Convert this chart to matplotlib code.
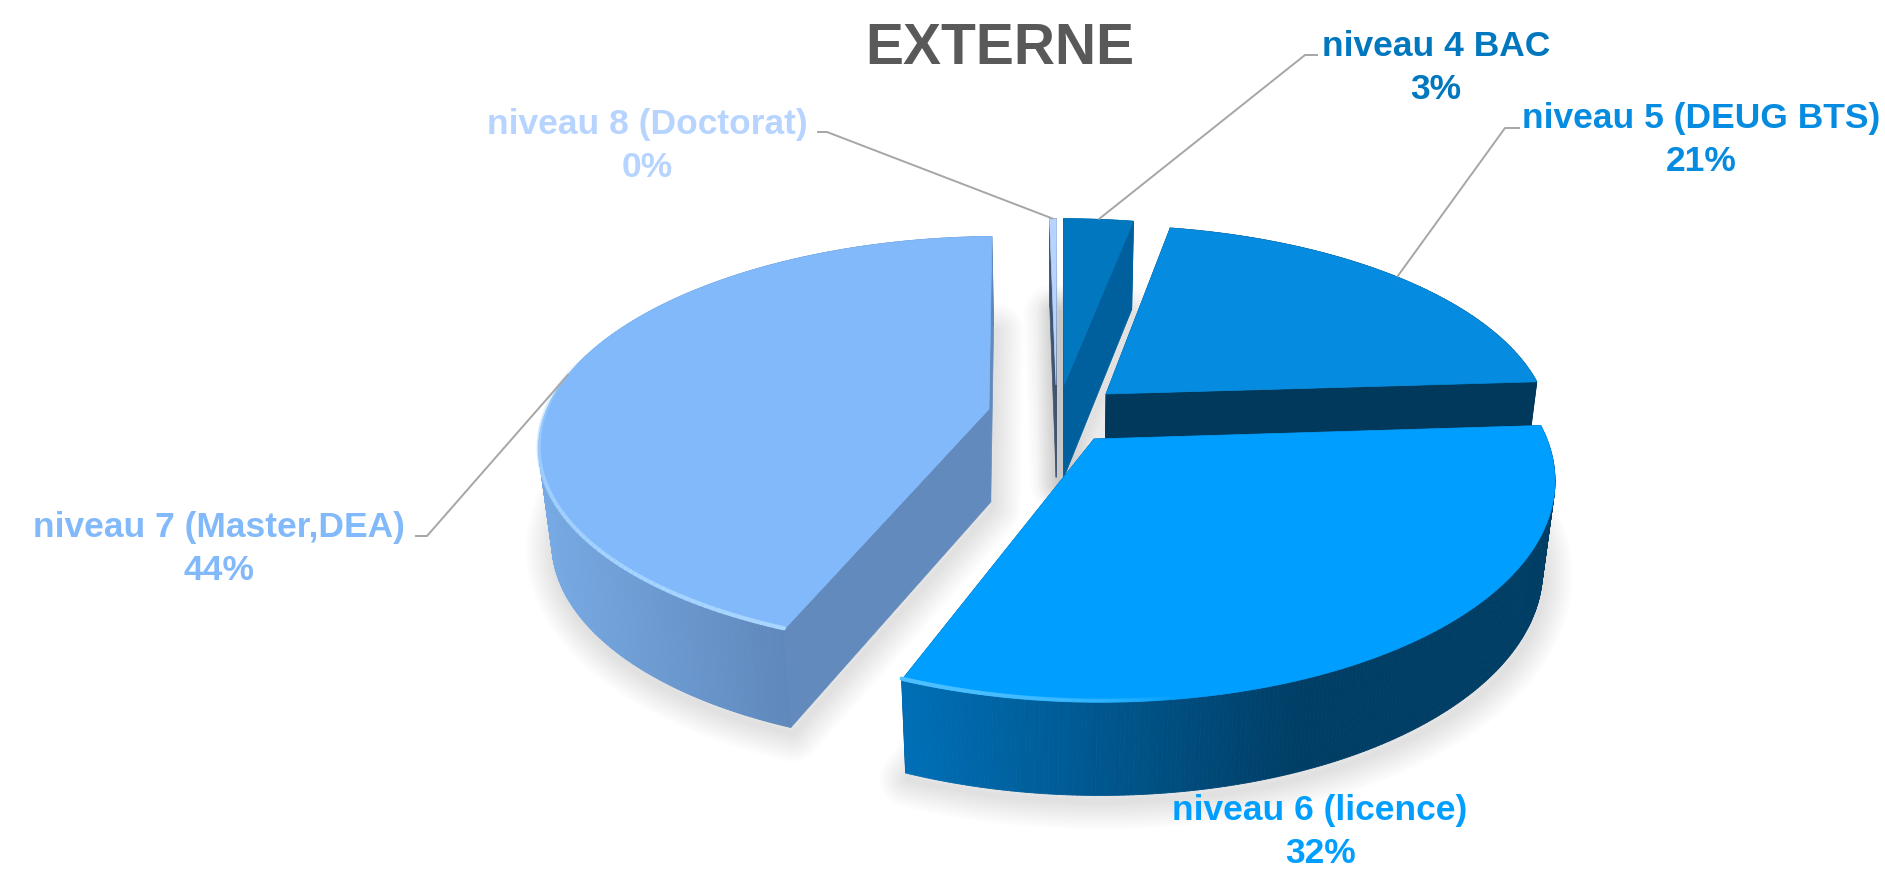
import numpy as np
import matplotlib
matplotlib.use("Agg")
import matplotlib.pyplot as plt
from matplotlib.collections import PolyCollection, LineCollection
from matplotlib.colors import to_rgb
from matplotlib.patches import Polygon

# ---------- data ----------
categories = ["niveau 4 BAC", "niveau 5 (DEUG BTS)", "niveau 6 (licence)",
              "niveau 7 (Master,DEA)", "niveau 8 (Doctorat)"]
values = [3.0, 21.0, 32.0, 43.7, 0.3]
title = "EXTERNE"

# ---------- styles ----------
top_colors = ["#0077BE", "#058BDF", "#009FFF", "#82B9FB", "#B7D4FF"]
cut_colors = ["#00609E", "#00395C", "#003E66", "#628ABD", "#3F5570"]
wall_from = ["#00609E", "#00395C", "#0070B8", "#77A9E3", "#3F5570"]
wall_to = ["#00609E", "#00395C", "#003E66", "#5F88BB", "#3F5570"]
wall_span = [(0, 1), (0, 1), (900, 1300), (545, 789), (0, 1)]
glow = [None, None, ("#4CC0FF", 172), ("#A8D6FF", 285), None]

# ---------- layout (pixels of the 1885x870 canvas) ----------
W, H = 1885, 870
xc, yc, R0, Ry, k = 1060.0, 410.0, 442.0, 201.0, 0.165
depth, base_shrink = 93.0, 0.975
apex_px = [(1064, 386), (1106, 395), (1094, 440), (989, 410), (1056, 386)]
near_stretch = [1.0, 1.0, 1.03, 1.0, 1.0]
depth_scale = [1.0, 1.0, 0.94, 1.0, 1.0]
label_xy = [(1436, 68), (1701, 140), (1320, 832), (219, 549), (647, 146)]
elbows = [[(1318, 56), (1305, 56)], [(1520, 129), (1505, 129)], None,
          [(415, 537), (427, 537)], [(817, 133), (827, 133)]]
draw_order = [4, 0, 1, 3, 2]
LEADER = "#A6A6A6"


def to_screen(X, Y):
    s = 1.0 / (1.0 - k * Y)
    return xc + R0 * X * s, yc + Ry * Y * s, s


def to_base(i, x, y, s):
    return xc + (x - xc) * base_shrink, y + depth * depth_scale[i] * s ** 0.3


def world_apex(px, py):
    d = py - yc
    Y = d / (Ry + k * d)
    return (px - xc) * (1 - k * Y) / R0, Y


def rim(i, a_deg):
    ax0, ay0 = world_apex(*apex_px[i])
    a = np.radians(a_deg)
    return to_screen(ax0 + np.sin(a), ay0 - np.cos(a) * near_stretch[i])


fig = plt.figure(figsize=(W / 100, H / 100), dpi=100, facecolor="white")
ax = fig.add_axes([0, 0, 1, 1])
ax.set_xlim(0, W)
ax.set_ylim(H, 0)
ax.axis("off")

edges = np.concatenate([[0], np.cumsum(values)]) / np.sum(values) * 360.0
z = 10

# soft shadows below every slice: only the growing strokes, no filled edge
for i in draw_order:
    ang = np.linspace(edges[i], edges[i + 1], 120)
    x, y, s = rim(i, ang)
    xb, yb = to_base(i, x, y, s)
    a0x, a0y, a0s = to_screen(*world_apex(*apex_px[i]))
    bx, by = to_base(i, a0x, a0y, a0s)
    pts = np.column_stack([np.r_[bx, xb], np.r_[by, yb]]) + [2, 6]
    for lw in np.arange(4, 44, 4):
        ax.add_patch(Polygon(pts, closed=True, fc="none", ec="black", lw=lw,
                             alpha=0.011, joinstyle="round", zorder=1))

for i in draw_order:
    ang = np.linspace(edges[i], edges[i + 1], max(8, int((edges[i + 1] - edges[i]) * 2)))
    x, y, s = rim(i, ang)
    xb, yb = to_base(i, x, y, s)
    a0x, a0y, a0s = to_screen(*world_apex(*apex_px[i]))
    bx, by = to_base(i, a0x, a0y, a0s)

    # cut faces
    for j in (0, -1):
        face = [(a0x, a0y), (x[j], y[j]), (xb[j], yb[j]), (bx, by)]
        ax.add_patch(Polygon(face, closed=True, fc=cut_colors[i], ec=cut_colors[i],
                             lw=0.5, zorder=z))
    z += 1

    # outer wall as a horizontal gradient, back quads first
    c0, c1 = np.array(to_rgb(wall_from[i])), np.array(to_rgb(wall_to[i]))
    x0, x1 = wall_span[i]
    quads, cols = [], []
    for n in np.argsort(y[:-1]):
        quads.append([(x[n], y[n]), (x[n + 1], y[n + 1]), (xb[n + 1], yb[n + 1]), (xb[n], yb[n])])
        t = np.clip((x[n] - x0) / (x1 - x0), 0, 1)
        cols.append(c0 + (c1 - c0) * t)
    ax.add_collection(PolyCollection(quads, facecolors=cols, edgecolors=cols, linewidths=0.6, zorder=z))
    z += 1

    # top face
    top = np.column_stack([np.r_[a0x, x], np.r_[a0y, y]])
    ax.add_patch(Polygon(top, closed=True, fc=top_colors[i], ec=top_colors[i], lw=0.5, zorder=z))
    z += 1

    # bevel highlight along the near rim
    if glow[i] is not None:
        col, stop = glow[i]
        a_near = edges[i + 1] if i == 2 else edges[i]
        a_g = np.linspace(a_near, stop, 90)
        gx, gy, _ = rim(i, a_g)
        gy = gy - 1.5
        segs = [[(gx[n], gy[n]), (gx[n + 1], gy[n + 1])] for n in range(len(gx) - 1)]
        rgb = to_rgb(col)
        fade = np.linspace(1, 0, len(segs)) ** 0.8
        ax.add_collection(LineCollection(segs, colors=[(*rgb, f) for f in fade],
                                         linewidths=3.0, zorder=z, capstyle="round"))
        z += 1

# labels and leader lines
for i, cat in enumerate(categories):
    lx, ly = label_xy[i]
    ax.text(lx, ly, f"{cat}\n{round(values[i])}%", ha="center", va="center",
            color=top_colors[i], fontsize=25.5, fontweight="bold",
            family="Liberation Sans", linespacing=1.37, zorder=z)
    if elbows[i] is not None:
        mid = (edges[i] + edges[i + 1]) / 2
        tx, ty, _ = rim(i, mid)
        pts = elbows[i] + [(float(tx), float(ty))]
        ax.plot(*zip(*pts), color=LEADER, lw=1.4, zorder=z - 1, solid_capstyle="butt")

ax.text(1000, 49, title, ha="center", va="center", color="#595959",
        fontsize=41, fontweight="bold", family="Liberation Sans", zorder=z)

fig.savefig("out.png", dpi=100, facecolor="white")
